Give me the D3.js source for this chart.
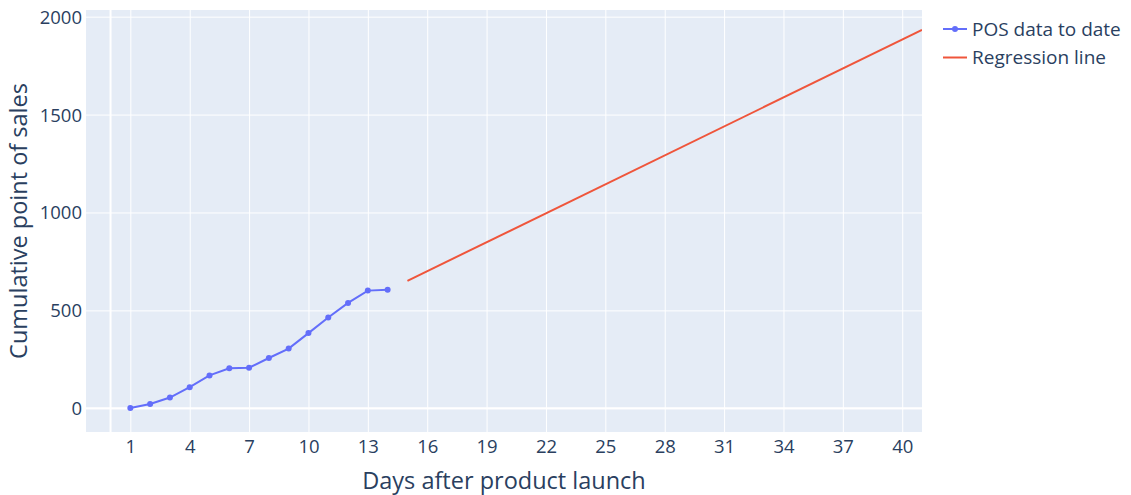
<!DOCTYPE html>
<html>
<head>
<meta charset="utf-8">
<script src="https://cdn.jsdelivr.net/npm/d3@7"></script>
<style>
  html, body { margin: 0; padding: 0; background: #fff; }
  svg { display: block; font-family: "Open Sans", "DejaVu Sans", sans-serif; }
</style>
</head>
<body>
<svg id="chart" width="1131" height="495"></svg>
<script>
// ---- data ----
const posDays = [1, 2, 3, 4, 5, 6, 7, 8, 9, 10, 11, 12, 13, 14];
const posSales = [2, 22, 55, 108, 168, 204, 207, 257, 305, 384, 464, 538, 601, 606];
const regDays = [15, 41];
const regSales = [651, 1932];
const xTicks = [1, 4, 7, 10, 13, 16, 19, 22, 25, 28, 31, 34, 37, 40];
const yTicks = [0, 500, 1000, 1500, 2000];
const seriesNames = ["POS data to date", "Regression line"];
const seriesColors = ["#636efa", "#EF553B"];
const xTitle = "Days after product launch";
const yTitle = "Cumulative point of sales";

// ---- layout ----
const W = 1131, H = 495;
const plot = { left: 86, top: 10, right: 922, bottom: 432 };
const textColor = "#2a3f5f";

const svg = d3.select("#chart");
const x = d3.scaleLinear().domain([-1.24, 41]).range([plot.left, plot.right]);
const y = d3.scaleLinear().domain([-121, 2034]).range([plot.bottom, plot.top]);

svg.append("rect")
  .attr("x", plot.left).attr("y", plot.top)
  .attr("width", plot.right - plot.left).attr("height", plot.bottom - plot.top)
  .attr("fill", "#E5ECF6");

// grid via axes
const xGrid = d3.axisBottom(x).tickValues(xTicks).tickSize(-(plot.bottom - plot.top)).tickFormat("");
svg.append("g").attr("transform", `translate(0,${plot.bottom})`).call(xGrid)
  .call(g => g.select(".domain").remove())
  .call(g => g.selectAll("line").attr("stroke", "#fff").attr("stroke-width", 1));
const yGrid = d3.axisLeft(y).tickValues(yTicks).tickSize(-(plot.right - plot.left)).tickFormat("");
svg.append("g").attr("transform", `translate(${plot.left},0)`).call(yGrid)
  .call(g => g.select(".domain").remove())
  .call(g => g.selectAll("line").attr("stroke", "#fff").attr("stroke-width", 1));

// zero lines
svg.append("line").attr("x1", x(0)).attr("x2", x(0)).attr("y1", plot.top).attr("y2", plot.bottom)
  .attr("stroke", "#fff").attr("stroke-width", 2);
svg.append("line").attr("x1", plot.left).attr("x2", plot.right).attr("y1", y(0)).attr("y2", y(0))
  .attr("stroke", "#fff").attr("stroke-width", 2);

// tick labels
const xAxis = d3.axisBottom(x).tickValues(xTicks).tickSize(0).tickPadding(0).tickFormat(d3.format("d"));
svg.append("g").attr("transform", `translate(0,${plot.bottom})`).call(xAxis)
  .call(g => g.select(".domain").remove())
  .call(g => g.selectAll("text").attr("fill", textColor).attr("font-size", 18.5)
    .attr("font-family", "Open Sans").attr("dy", null).attr("y", 21));

const yAxis = d3.axisLeft(y).tickValues(yTicks).tickSize(0).tickPadding(0).tickFormat(d3.format("d"));
svg.append("g").attr("transform", `translate(${plot.left},0)`).call(yAxis)
  .call(g => g.select(".domain").remove())
  .call(g => g.selectAll("text").attr("fill", textColor).attr("font-size", 18.5)
    .attr("font-family", "Open Sans").attr("x", -4).attr("dy", "0.35em"));

// axis titles
svg.append("text").attr("x", (plot.left + plot.right) / 2).attr("y", 489)
  .attr("text-anchor", "middle").attr("fill", textColor).attr("font-size", 23.5).text(xTitle);
svg.append("text").attr("transform", `translate(27,${(plot.top + plot.bottom) / 2}) rotate(-90)`)
  .attr("text-anchor", "middle").attr("fill", textColor).attr("font-size", 23.5).text(yTitle);

// series
const clip = svg.append("clipPath").attr("id", "clip").append("rect")
  .attr("x", plot.left).attr("y", plot.top).attr("width", plot.right - plot.left).attr("height", plot.bottom - plot.top);
const gData = svg.append("g").attr("clip-path", "url(#clip)");

const line = d3.line().x(d => x(d[0])).y(d => y(d[1]));
const posPts = posDays.map((d, i) => [d, posSales[i]]);
const regPts = regDays.map((d, i) => [d, regSales[i]]);

gData.append("path").datum(regPts).attr("d", line).attr("fill", "none")
  .attr("stroke", seriesColors[1]).attr("stroke-width", 2);
gData.append("path").datum(posPts).attr("d", line).attr("fill", "none")
  .attr("stroke", seriesColors[0]).attr("stroke-width", 2);
gData.selectAll("circle.pos").data(posPts).join("circle").attr("class", "pos")
  .attr("cx", d => x(d[0])).attr("cy", d => y(d[1])).attr("r", 3).attr("fill", seriesColors[0]);

// legend
const legend = svg.append("g");
seriesNames.forEach((name, i) => {
  const ly = 29 + i * 28.5;
  legend.append("line").attr("x1", 943).attr("x2", 967).attr("y1", ly).attr("y2", ly)
    .attr("stroke", seriesColors[i]).attr("stroke-width", 2);
  if (i === 0) legend.append("circle").attr("cx", 955).attr("cy", ly).attr("r", 3).attr("fill", seriesColors[i]);
  legend.append("text").attr("x", 972).attr("y", ly).attr("dy", "0.35em")
    .attr("fill", textColor).attr("font-size", 19).text(name);
});
</script>
</body>
</html>
